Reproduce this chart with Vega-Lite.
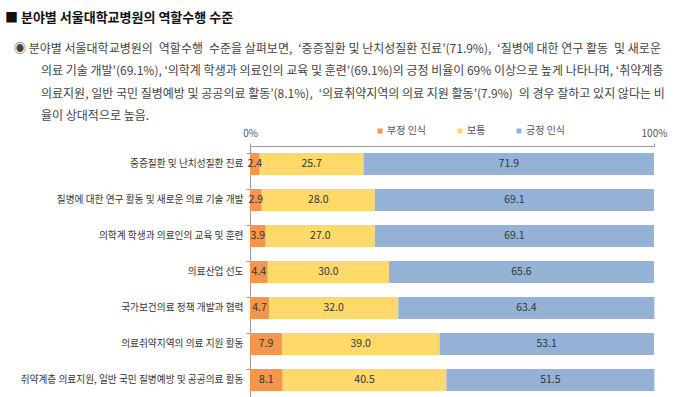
{
  "$schema": "https://vega.github.io/schema/vega-lite/v6.json",
  "autosize": "none",
  "width": 404,
  "height": 252,
  "padding": {"left": 250, "top": 146, "right": 26, "bottom": 0},
  "background": "white",
  "config": {"font": "Noto Sans CJK KR", "view": {"stroke": null}},
  "title": {
    "text": "■ 분야별 서울대학교병원의 역할수행 수준",
    "subtitle": [
      "⠀◉ 분야별 서울대학교병원의\u2002역할수행\u2002수준을 살펴보면,\u2002‘중증질환 및 난치성질환 진료’(71.9%),\u2002‘질병에 대한 연구 활동\u2002및 새로운",
      "⠀⠀⠀⠀의료 기술 개발’(69.1%), ‘의학계 학생과 의료인의 교육 및 훈련’(69.1%)의 긍정 비율이 69% 이상으로 높게 나타나며, ‘취약계층",
      "⠀⠀⠀⠀의료지원, 일반 국민 질병예방 및 공공의료 활동’(8.1%),\u2002‘의료취약지역의 의료 지원 활동’(7.9%)\u2002의 경우 잘하고 있지 않다는 비",
      "⠀⠀⠀⠀율이 상대적으로 높음."
    ],
    "anchor": "start",
    "frame": "group",
    "dx": -245,
    "offset": 4,
    "fontSize": 13,
    "fontWeight": "bold",
    "color": "#111",
    "subtitleFontSize": 12,
    "subtitleColor": "#444",
    "subtitleLineHeight": 22.5,
    "subtitlePadding": 19
  },
  "data": {
    "values": [
      {"cat": "중증질환 및 난치성질환 진료", "type": "부정 인식", "ord": 1, "value": 2.4},
      {"cat": "중증질환 및 난치성질환 진료", "type": "보통", "ord": 2, "value": 25.7},
      {"cat": "중증질환 및 난치성질환 진료", "type": "긍정 인식", "ord": 3, "value": 71.9},
      {"cat": "질병에 대한 연구 활동 및 새로운 의료 기술 개발", "type": "부정 인식", "ord": 1, "value": 2.9},
      {"cat": "질병에 대한 연구 활동 및 새로운 의료 기술 개발", "type": "보통", "ord": 2, "value": 28.0},
      {"cat": "질병에 대한 연구 활동 및 새로운 의료 기술 개발", "type": "긍정 인식", "ord": 3, "value": 69.1},
      {"cat": "의학계 학생과 의료인의 교육 및 훈련", "type": "부정 인식", "ord": 1, "value": 3.9},
      {"cat": "의학계 학생과 의료인의 교육 및 훈련", "type": "보통", "ord": 2, "value": 27.0},
      {"cat": "의학계 학생과 의료인의 교육 및 훈련", "type": "긍정 인식", "ord": 3, "value": 69.1},
      {"cat": "의료산업 선도", "type": "부정 인식", "ord": 1, "value": 4.4},
      {"cat": "의료산업 선도", "type": "보통", "ord": 2, "value": 30.0},
      {"cat": "의료산업 선도", "type": "긍정 인식", "ord": 3, "value": 65.6},
      {"cat": "국가보건의료 정책 개발과 협력", "type": "부정 인식", "ord": 1, "value": 4.7},
      {"cat": "국가보건의료 정책 개발과 협력", "type": "보통", "ord": 2, "value": 32.0},
      {"cat": "국가보건의료 정책 개발과 협력", "type": "긍정 인식", "ord": 3, "value": 63.4},
      {"cat": "의료취약지역의 의료 지원 활동", "type": "부정 인식", "ord": 1, "value": 7.9},
      {"cat": "의료취약지역의 의료 지원 활동", "type": "보통", "ord": 2, "value": 39.0},
      {"cat": "의료취약지역의 의료 지원 활동", "type": "긍정 인식", "ord": 3, "value": 53.1},
      {"cat": "취약계층 의료지원, 일반 국민 질병예방 및 공공의료 활동", "type": "부정 인식", "ord": 1, "value": 8.1},
      {"cat": "취약계층 의료지원, 일반 국민 질병예방 및 공공의료 활동", "type": "보통", "ord": 2, "value": 40.5},
      {"cat": "취약계층 의료지원, 일반 국민 질병예방 및 공공의료 활동", "type": "긍정 인식", "ord": 3, "value": 51.5}
    ]
  },
  "encoding": {
    "y": {
      "field": "cat",
      "type": "nominal",
      "sort": null,
      "scale": {"paddingInner": 0.39, "paddingOuter": 0.195},
      "axis": {
        "title": null,
        "labelFontSize": 9.7,
        "labelColor": "#333",
        "labelPadding": 3,
        "labelLimit": 400,
        "tickSize": 4,
        "tickColor": "#999",
        "domainColor": "#999",
        "bandPosition": 0
      }
    },
    "order": {"field": "ord", "type": "quantitative"}
  },
  "layer": [
    {
      "mark": {"type": "bar"},
      "encoding": {
        "x": {
          "field": "value",
          "type": "quantitative",
          "stack": "zero",
          "scale": {"domain": [0, 100], "nice": false},
          "axis": {
            "orient": "top",
            "title": null,
            "values": [0, 100],
            "labelExpr": "datum.value + '%'",
            "labelFlush": false,
            "grid": false,
            "labelFontSize": 10,
            "labelColor": "#555",
            "labelPadding": 5,
            "tickSize": 3,
            "tickColor": "#999",
            "domainColor": "#999"
          }
        },
        "color": {
          "field": "type",
          "type": "nominal",
          "scale": {"domain": ["부정 인식", "보통", "긍정 인식"], "range": ["#F4964E", "#FFD96A", "#95B2D6"]},
          "legend": {
            "orient": "none",
            "legendX": 125,
            "legendY": -20,
            "direction": "horizontal",
            "title": null,
            "symbolType": "square",
            "symbolSize": 25,
            "labelFontSize": 10,
            "labelColor": "#555",
            "columnPadding": 28,
            "labelOffset": 2
          }
        }
      }
    },
    {
      "mark": {"type": "text", "fontSize": 10.5, "color": "#333"},
      "encoding": {
        "x": {"field": "value", "type": "quantitative", "stack": "zero", "bandPosition": 0.5},
        "detail": {"field": "type"},
        "text": {"field": "value", "type": "quantitative", "format": ".1f"}
      }
    }
  ]
}
